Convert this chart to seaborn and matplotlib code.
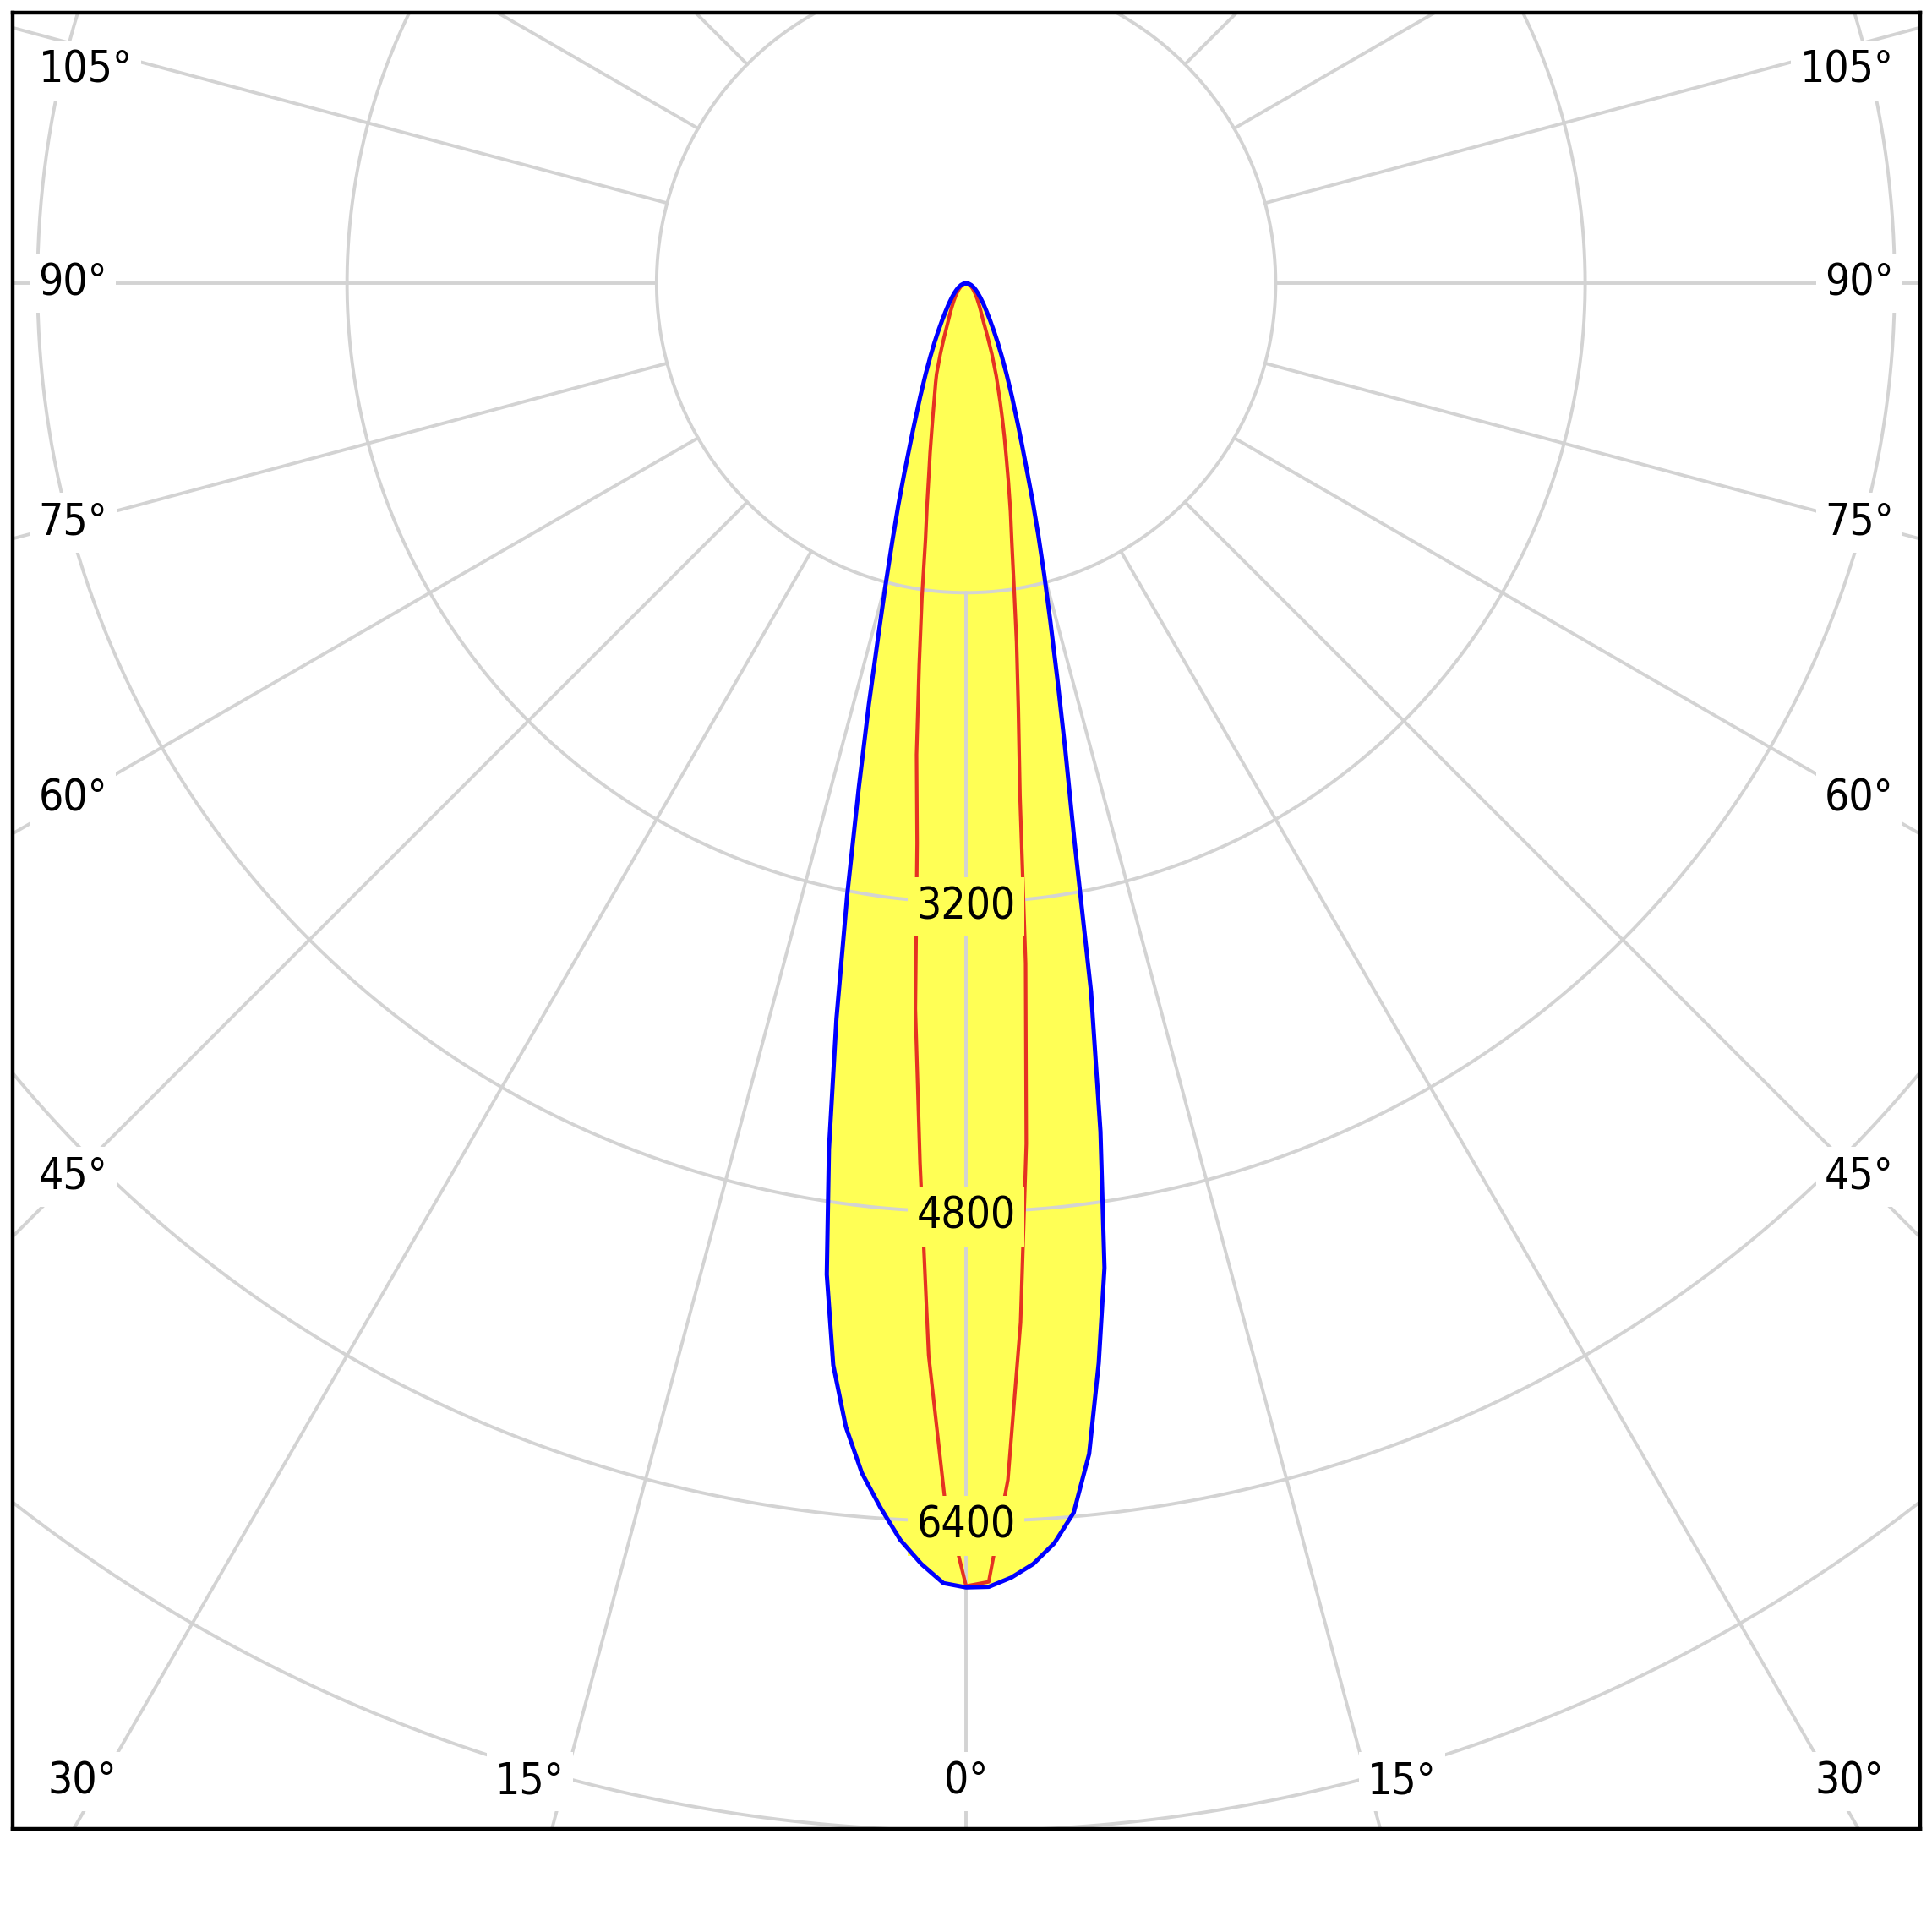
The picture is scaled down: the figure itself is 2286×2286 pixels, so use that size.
import numpy as np
import pandas as pd
import matplotlib
matplotlib.use("Agg")
import matplotlib.pyplot as plt
import seaborn as sns

# luminous intensity (cd) against gamma angle (deg)
# blue plane, right half / left half
blue_right_deg = [0, 1, 2, 3, 4, 5, 6, 7, 8, 9, 10, 11, 12, 13, 14, 15, 16, 17, 18, 19, 20, 22, 24, 26, 28, 30, 33, 36, 40, 45, 50, 55, 60, 70, 80, 90]
blue_right_cd = [6742, 6740, 6695, 6630, 6530, 6380, 6085, 5625, 5140, 4440, 3720, 2933, 2466, 2095, 1799, 1561, 1354, 1175, 1016, 892, 791, 634, 514, 421, 349, 291, 226, 180, 139, 103, 79, 61, 48, 28, 13, 0]
blue_left_deg = [0, 1, 2, 3, 4, 5, 6, 7, 8, 9, 10, 11, 12, 13, 14, 15, 16, 17, 18, 19, 20, 22, 24, 26, 28, 30, 33, 36, 40, 45, 50, 55, 60, 70, 80, 90]
blue_left_cd = [6742, 6721, 6625, 6505, 6345, 6175, 5945, 5635, 5175, 4532, 3859, 3220, 2670, 2234, 1874, 1601, 1379, 1197, 1036, 901, 795, 634, 514, 421, 349, 291, 226, 180, 139, 103, 79, 61, 48, 28, 13, 0]

# red plane, right half / left half
red_right_deg = [0, 1, 2, 3, 4, 5, 6, 7, 8, 9, 10, 11, 12, 13, 14, 15, 16, 17, 18, 20, 22, 25, 28, 30, 35, 40, 45, 50, 60, 70, 80, 90]
red_right_cd = [6735, 6714, 6190, 5380, 4460, 3530, 2665, 2216, 1875, 1580, 1361, 1202, 1053, 924, 818, 723, 640, 565, 505, 390, 293, 203, 160, 139, 100, 74, 57, 44, 27, 15, 7, 0]
red_left_deg = [0, 1, 2, 3, 4, 5, 6, 7, 8, 9, 10, 11, 12, 13, 14, 15, 16, 17, 18, 20, 22, 25, 28, 30, 35, 40, 45, 50, 60, 70, 80, 90]
red_left_cd = [6735, 6290, 5545, 4552, 3760, 2905, 2450, 1990, 1640, 1342, 1161, 1009, 895, 793, 711, 642, 586, 539, 494, 389, 307, 223, 176, 152, 110, 82, 62, 48, 29, 17, 8, 0]

ring_cd = [1600, 3200, 4800, 6400, 8000, 9600, 11200]
ring_labels = ["3200", "4800", "6400"]
angle_labels = [-105, -90, -75, -60, -45, -30, -15, 0, 15, 30, 45, 60, 75, 90, 105]

grid_col = "#d3d3d3"
fill_col = "#ffff55"


def to_xy(right_deg, right_cd, left_deg, left_cd):
    g = np.concatenate([-np.array(left_deg[::-1], float), np.array(right_deg[1:], float)])
    r = np.concatenate([np.array(left_cd[::-1], float), np.array(right_cd[1:], float)])
    t = np.radians(g)
    return pd.DataFrame({"x": r * np.sin(t), "y": -r * np.cos(t)})


blue = to_xy(blue_right_deg, blue_right_cd, blue_left_deg, blue_left_cd)
red = to_xy(red_right_deg, red_right_cd, red_left_deg, red_left_cd)

sns.set_style("white")
plt.rcParams["font.family"] = ["DejaVu Sans"]
plt.rcParams["font.stretch"] = "condensed"
plt.rcParams["text.color"] = "black"

fig = plt.figure(figsize=(22.86, 22.86), dpi=100)
ax = fig.add_axes([0.0064, 0.0535, 0.9873, 0.9401])
ax.set_xlim(-4930, 4930)
ax.set_ylim(-7989, 1400)
ax.set_xticks([])
ax.set_yticks([])
for s in ax.spines.values():
    s.set_visible(True)
    s.set_color("black")
    s.set_linewidth(3.2)

# fill under the grid
ax.fill(blue["x"], blue["y"], color=fill_col, zorder=1, lw=0)

# rings and spokes
th = np.linspace(0, 2 * np.pi, 721)
for rc in ring_cd:
    ax.plot(rc * np.cos(th), rc * np.sin(th), color=grid_col, lw=2.8, zorder=2)
for a in range(0, 360, 15):
    t = np.radians(a)
    ax.plot([1600 * np.sin(t), 14000 * np.sin(t)], [-1600 * np.cos(t), -14000 * np.cos(t)],
            color=grid_col, lw=2.8, zorder=2)

# red sits under the value labels, blue on top of them
sns.lineplot(data=blue, x="x", y="y", sort=False, estimator=None, color="#0000ff", lw=3.6, ax=ax, zorder=6)
sns.lineplot(data=red, x="x", y="y", sort=False, estimator=None, color="#e53222", lw=3.0, ax=ax, zorder=3)
ax.set_xlabel("")
ax.set_ylabel("")

fs = 37
for lab in ring_labels:
    ax.text(0, -float(lab), lab, fontsize=fs, ha="center", va="center_baseline", zorder=5, color="black",
            bbox=dict(boxstyle="square,pad=0.2", fc=fill_col, ec="none"))

# angle labels along the frame
edge_x = 4795
mid_x = 4620
top_y = 1097
bot_y = -7746
bottom_texts = []
for a in angle_labels:
    t = np.radians(a)
    txt = f"{abs(a)}\u00b0"
    if abs(a) >= 45:
        side = np.sign(a)
        y = -mid_x / abs(np.sin(t)) * np.cos(t)
        y = min(y, top_y)
        ax.text(side * edge_x, y, txt, fontsize=fs, ha="right" if side > 0 else "left", va="center",
                zorder=5, color="black", bbox=dict(boxstyle="square,pad=0.2", fc="white", ec="none"))
    else:
        x = -bot_y * np.tan(t)
        ha = "center" if a == 0 else ("left" if a > 0 else "right")
        tt = ax.text(x, bot_y, txt, fontsize=fs, ha=ha, va="center", zorder=5, color="black",
                     bbox=dict(boxstyle="square,pad=0.2", fc="white", ec="none"))
        bottom_texts.append(tt)

# keep bottom labels inside the frame
fig.canvas.draw()
rend = fig.canvas.get_renderer()
inv = ax.transData.inverted()
lim = 4745
for tt in bottom_texts:
    bb = tt.get_window_extent(rend).transformed(inv)
    x, y = tt.get_position()
    if bb.x1 > lim:
        tt.set_position((x - (bb.x1 - lim), y))
    elif bb.x0 < -lim:
        tt.set_position((x + (-lim - bb.x0), y))

fig.savefig("out.png", dpi=100, facecolor="white")
